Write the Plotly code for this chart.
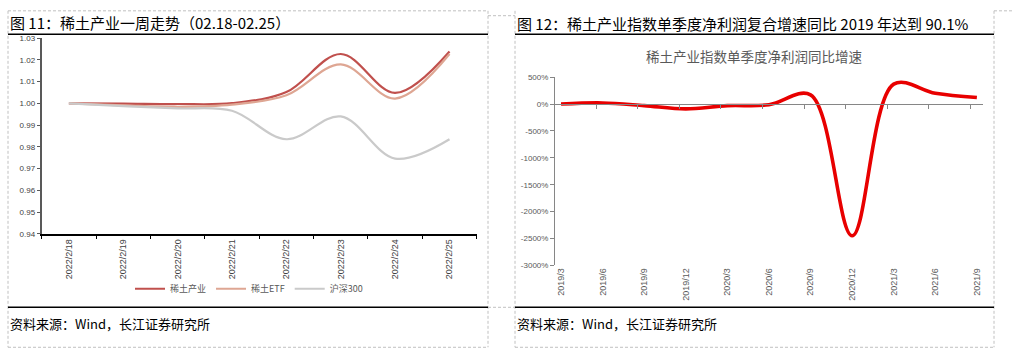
import plotly.graph_objects as go

W, H = 1013, 363

# ---------------- data ----------------
days = ["2022/2/18", "2022/2/19", "2022/2/20", "2022/2/21",
        "2022/2/22", "2022/2/23", "2022/2/24", "2022/2/25"]
rare_earth = [1.000, 0.9999, 0.9997, 1.0001, 1.0052, 1.0227, 1.0048, 1.0239]
rare_etf = [1.000, 0.9991, 0.9984, 0.9994, 1.0037, 1.0179, 1.0022, 1.0227]
hs300 = [1.000, 0.9987, 0.9977, 0.9966, 0.9835, 0.9940, 0.9746, 0.9835]
left_names = ["稀土产业", "稀土ETF", "沪深300"]

quarters = ["2019/3", "2019/6", "2019/9", "2019/12", "2020/3", "2020/6",
            "2020/9", "2020/12", "2021/3", "2021/6", "2021/9"]
profit_growth = [0, 20, -30, -90, -30, -15, 170, -2450, 370, 200, 120]  # %

left_y_ticks = [0.94, 0.95, 0.96, 0.97, 0.98, 0.99, 1.00, 1.01, 1.02, 1.03]
right_y_ticks = [500, 0, -500, -1000, -1500, -2000, -2500, -3000]

# ---------------- helpers ----------------
def px(x):
    return x / W

def py(y):
    return 1 - y / H

fig = go.Figure()

CJK = "Noto Sans CJK SC, Noto Sans, sans-serif"
LAT = "Liberation Sans, Arial, sans-serif"

# ---------------- left chart ----------------
left_colors = ["#C0504D", "#DEA693", "#CACACA"]
for name, vals, col in zip(left_names, [rare_earth, rare_etf, hs300], left_colors):
    fig.add_trace(go.Scatter(
        x=days, y=vals, name=name, mode="lines",
        line=dict(color=col, width=2.2, shape="spline", smoothing=1.0),
        xaxis="x", yaxis="y", hoverinfo="skip"))

# ---------------- right chart ----------------
qx = list(range(len(quarters)))
fig.add_trace(go.Scatter(
    x=qx, y=profit_growth, mode="lines", showlegend=False,
    line=dict(color="#E80000", width=3.6, shape="spline", smoothing=1.0),
    xaxis="x2", yaxis="y2", hoverinfo="skip"))
# invisible helper trace so the zero-line axis is drawn
fig.add_trace(go.Scatter(
    x=qx, y=profit_growth, mode="lines", showlegend=False, opacity=0,
    line=dict(width=0), xaxis="x3", yaxis="y2", hoverinfo="skip"))

yr_top, yr_bot = 75, 268
y2_dom = [py(yr_bot), py(yr_top)]
zero_pos = y2_dom[0] + (0 - (-3000)) / 3500 * (y2_dom[1] - y2_dom[0])
xr = [-0.145, 10.14]

fig.update_layout(
    width=W, height=H,
    margin=dict(l=0, r=0, t=0, b=0),
    paper_bgcolor="white", plot_bgcolor="white",
    font=dict(family=LAT, color="#404040"),
    showlegend=True,
    legend=dict(orientation="h", x=px(249), xanchor="center",
                y=py(292), yanchor="middle",
                font=dict(family=CJK, size=9, color="#595959"),
                itemwidth=30, tracegroupgap=0, bgcolor="rgba(0,0,0,0)"),
    xaxis=dict(domain=[px(41.7), px(476.7)], anchor="y", type="category",
               range=[-0.5, len(days) - 0.5],
               tickson="boundaries", ticks="outside", ticklen=3,
               tickcolor="#000000", showline=True, linecolor="#000000",
               linewidth=1.5, showgrid=False, tickangle=-90,
               tickfont=dict(size=9, color="#404040", family=LAT),
               fixedrange=True),
    yaxis=dict(domain=[py(235.7), py(35)], anchor="x",
               range=[0.94, 1.03], tickvals=left_y_ticks, tickformat=".2f",
               ticks="outside", ticklen=3, tickcolor="#595959",
               showline=True, linecolor="#595959", linewidth=2,
               showgrid=False, zeroline=False,
               tickfont=dict(size=8, color="#404040", family=LAT)),
    xaxis2=dict(domain=[px(555), px(982.7)], anchor="y2", range=xr,
                tickvals=qx, ticktext=quarters, ticks="", showline=False,
                showgrid=False, zeroline=False, tickangle=-90,
                tickfont=dict(size=9, color="#595959", family=LAT)),
    xaxis3=dict(overlaying="x2", anchor="free", position=zero_pos, range=xr,
                tickvals=[q - 0.155 for q in qx[1:]], ticks="outside",
                ticklen=4, tickcolor="#868686", showticklabels=False,
                showline=True, linecolor="#868686", linewidth=1,
                showgrid=False, zeroline=False),
    yaxis2=dict(domain=y2_dom, anchor="x2", range=[-3000, 500],
                tickvals=right_y_ticks,
                ticktext=[f"{v}%" for v in right_y_ticks],
                ticks="outside", ticklen=4, tickcolor="#868686",
                showline=True, linecolor="#868686", linewidth=1,
                showgrid=False, zeroline=False,
                tickfont=dict(size=8, color="#595959", family=LAT)),
)

# ---------------- texts ----------------
ann = [
    dict(text="图 11：稀土产业一周走势（02.18-02.25）", x=px(8), y=py(18.5),
         size=15, color="#000000"),
    dict(text="图 12：稀土产业指数单季度净利润复合增速同比 2019 年达到 90.1%",
         x=px(515), y=py(20.5), size=15, color="#000000"),
    dict(text="资料来源：Wind，长江证券研究所", x=px(8), y=py(328),
         size=13, color="#000000"),
    dict(text="资料来源：Wind，长江证券研究所", x=px(515), y=py(328),
         size=13, color="#000000"),
]
for a in ann:
    fig.add_annotation(text=a["text"], x=a["x"], y=a["y"], xref="paper",
                       yref="paper", xanchor="left", yanchor="middle",
                       showarrow=False,
                       font=dict(family=CJK, size=a["size"], color=a["color"]))
fig.add_annotation(text="稀土产业指数单季度净利润同比增速", x=px(754), y=py(53.5),
                   xref="paper", yref="paper", xanchor="center",
                   yanchor="middle", showarrow=False,
                   font=dict(family=CJK, size=13.5, color="#595959"))

# ---------------- frame lines ----------------
def pline(x0, y0, x1, y1, color, width, dash=None):
    fig.add_shape(type="line", xref="paper", yref="paper",
                  x0=px(x0), y0=py(y0), x1=px(x1), y1=py(y1),
                  line=dict(color=color, width=width, dash=dash))

DASH = "3px,2px"
GREY = "#C0C0C0"
# dashed cell borders
pline(8, 7, 488, 7, GREY, 1, DASH)
pline(488, 12, 515, 12, GREY, 1, DASH)
pline(994, 7, 1013, 7, GREY, 1, DASH)
for xv in (8, 488, 515, 994):
    pline(xv, 7, xv, 352, GREY, 1, DASH)
pline(8, 352, 488, 352, GREY, 1, DASH)
pline(515, 352, 994, 352, GREY, 1, DASH)
pline(488, 311, 515, 311, GREY, 1, DASH)
# solid black rules
pline(8, 31, 488, 31, "#000000", 1.5)
pline(515, 31, 994, 31, "#000000", 1.5)
pline(8, 311, 488, 311, "#000000", 1.5)
pline(515, 311, 994, 311, "#000000", 1.5)

fig.write_html(
    "out.html",
    config={"displayModeBar": False},
    post_script="document.body.style.margin='0px';"
                "document.body.style.overflow='hidden';")
